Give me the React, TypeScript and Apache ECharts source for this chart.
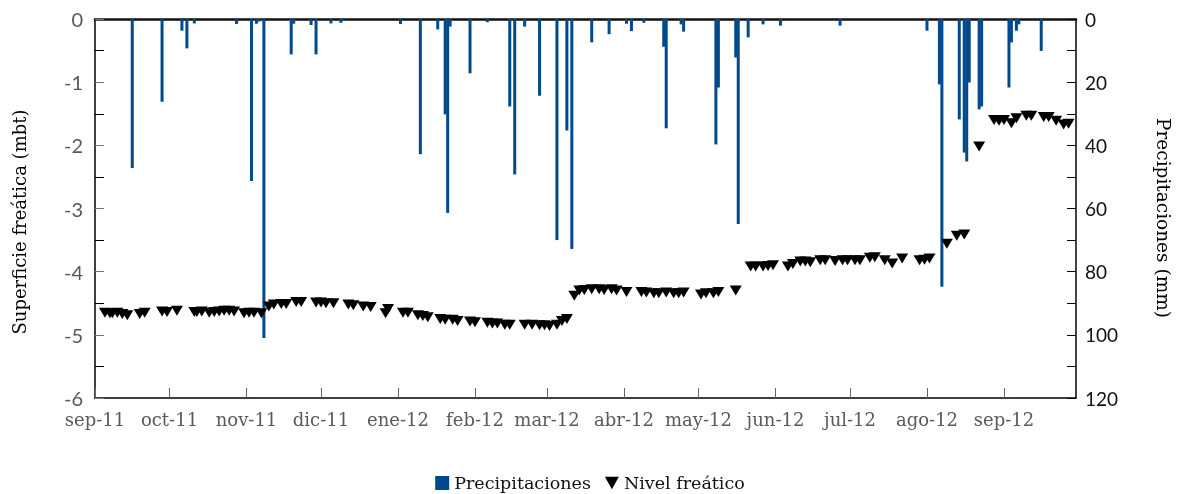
import React, { useEffect, useRef } from "react";
import * as echarts from "echarts";

const mesesInicio = [
  "2011-09-01", "2011-10-01", "2011-11-01", "2011-12-01", "2012-01-01", "2012-02-01", "2012-03-01",
  "2012-04-01", "2012-05-01", "2012-06-01", "2012-07-01", "2012-08-01", "2012-09-01",
];
const mesesEtiquetas = [
  "sep-11", "oct-11", "nov-11", "dic-11", "ene-12", "feb-12", "mar-12",
  "abr-12", "may-12", "jun-12", "jul-12", "ago-12", "sep-12",
];

const precipFechas = [
  "2011-09-16", "2011-09-28",
  "2011-10-06", "2011-10-08", "2011-10-11", "2011-10-28",
  "2011-11-03", "2011-11-05", "2011-11-06", "2011-11-08", "2011-11-19", "2011-11-20", "2011-11-27", "2011-11-29",
  "2011-12-05", "2011-12-09", "2011-12-10",
  "2012-01-02", "2012-01-10", "2012-01-17", "2012-01-20", "2012-01-21", "2012-01-22", "2012-01-30",
  "2012-02-06", "2012-02-15", "2012-02-17", "2012-02-21", "2012-02-27",
  "2012-03-05", "2012-03-09", "2012-03-11", "2012-03-19", "2012-03-26",
  "2012-04-02", "2012-04-04", "2012-04-09", "2012-04-17", "2012-04-18", "2012-04-24", "2012-04-25",
  "2012-05-08", "2012-05-09", "2012-05-16", "2012-05-17", "2012-05-21", "2012-05-27",
  "2012-06-03", "2012-06-27",
  "2012-08-01", "2012-08-06", "2012-08-07", "2012-08-14", "2012-08-16", "2012-08-17", "2012-08-18", "2012-08-22", "2012-08-23",
  "2012-09-03", "2012-09-04", "2012-09-06", "2012-09-07", "2012-09-16",
];
const precipValores = [
  47.2, 26.2,
  3.7, 9.3, 1.4, 1.6,
  51.3, 1.5, 0.8, 101, 11.2, 1.5, 1.9, 11.2,
  1.4, 1.2, 0.5,
  1.6, 42.8, 3.3, 30.2, 61.4, 2.4, 17.2,
  1.0, 27.7, 49.2, 2.4, 24.3,
  70, 35.3, 72.8, 7.4, 4.8,
  1.5, 3.8, 1.2, 8.8, 34.6, 1.7, 4,
  39.7, 21.7, 12.2, 64.9, 5.8, 1.7,
  2.1, 2.1,
  3.7, 20.7, 84.8, 31.8, 42.3, 45.1, 20.1, 28.6, 27.7,
  21.7, 7.4, 3.7, 1.7, 10.1,
];

const nivelFechas = [
  "2011-09-05", "2011-09-07", "2011-09-08", "2011-09-10", "2011-09-12", "2011-09-14", "2011-09-19", "2011-09-21", "2011-09-28", "2011-09-30",
  "2011-10-04", "2011-10-11", "2011-10-12", "2011-10-14", "2011-10-17", "2011-10-19", "2011-10-21", "2011-10-23", "2011-10-25", "2011-10-27", "2011-10-31",
  "2011-11-02", "2011-11-04", "2011-11-07", "2011-11-10", "2011-11-12", "2011-11-15", "2011-11-17", "2011-11-21", "2011-11-23", "2011-11-29",
  "2011-12-01", "2011-12-03", "2011-12-06", "2011-12-12", "2011-12-14", "2011-12-18", "2011-12-21", "2011-12-27", "2011-12-28",
  "2012-01-03", "2012-01-05", "2012-01-09", "2012-01-11", "2012-01-13", "2012-01-18", "2012-01-20", "2012-01-23", "2012-01-25", "2012-01-30",
  "2012-02-01", "2012-02-06", "2012-02-08", "2012-02-10", "2012-02-13", "2012-02-15", "2012-02-21", "2012-02-24", "2012-02-27", "2012-02-29",
  "2012-03-02", "2012-03-05", "2012-03-07", "2012-03-09", "2012-03-12", "2012-03-14", "2012-03-16", "2012-03-19", "2012-03-22", "2012-03-24", "2012-03-27", "2012-03-29",
  "2012-04-02", "2012-04-08", "2012-04-10", "2012-04-13", "2012-04-15", "2012-04-18", "2012-04-21", "2012-04-23", "2012-04-25",
  "2012-05-02", "2012-05-04", "2012-05-07", "2012-05-09", "2012-05-16", "2012-05-22", "2012-05-24", "2012-05-27", "2012-05-29", "2012-05-31",
  "2012-06-06", "2012-06-08", "2012-06-11", "2012-06-13", "2012-06-15", "2012-06-19", "2012-06-21", "2012-06-25", "2012-06-28", "2012-06-30",
  "2012-07-03", "2012-07-05", "2012-07-09", "2012-07-11", "2012-07-15", "2012-07-18", "2012-07-22", "2012-07-29", "2012-07-31",
  "2012-08-02", "2012-08-09", "2012-08-13", "2012-08-16", "2012-08-22", "2012-08-28", "2012-08-30",
  "2012-09-01", "2012-09-04", "2012-09-06", "2012-09-10", "2012-09-12", "2012-09-17", "2012-09-19", "2012-09-22", "2012-09-25", "2012-09-27",
];
const nivelValores = [
  -4.65, -4.66, -4.66, -4.65, -4.67, -4.69, -4.67, -4.65, -4.63, -4.64,
  -4.62, -4.64, -4.64, -4.63, -4.65, -4.64, -4.63, -4.62, -4.62, -4.63, -4.66,
  -4.65, -4.65, -4.66, -4.55, -4.52, -4.51, -4.51, -4.48, -4.48, -4.49,
  -4.49, -4.5, -4.5, -4.52, -4.53, -4.55, -4.56, -4.66, -4.59,
  -4.65, -4.65, -4.69, -4.7, -4.72, -4.75, -4.76, -4.76, -4.78, -4.79,
  -4.8, -4.81, -4.82, -4.82, -4.84, -4.84, -4.84, -4.84, -4.85, -4.85,
  -4.86, -4.84, -4.78, -4.75, -4.38, -4.3, -4.29, -4.28, -4.28, -4.29, -4.28, -4.3,
  -4.32, -4.32, -4.33, -4.34, -4.34, -4.33, -4.34, -4.34, -4.33,
  -4.36, -4.34, -4.34, -4.32, -4.3, -3.92, -3.92, -3.92, -3.91, -3.9,
  -3.92, -3.88, -3.84, -3.84, -3.85, -3.82, -3.82, -3.83, -3.82, -3.82,
  -3.82, -3.82, -3.78, -3.77, -3.82, -3.87, -3.79, -3.82, -3.81,
  -3.79, -3.56, -3.43, -3.41, -2.02, -1.6, -1.61,
  -1.6, -1.65, -1.57, -1.53, -1.53, -1.55, -1.55, -1.61, -1.67, -1.66,
];

const X_MIN = "2011-09-01";
const X_MAX = "2012-09-30";
const TITULO_IZQ = "Superficie freática (mbt)";
const TITULO_DER = "Precipitaciones (mm)";

function ts(s: string): number {
  const [y, m, d] = s.split("-").map(Number);
  return Date.UTC(y, m - 1, d);
}

const TRI = "path://M0,0L10,0L5,9Z";
const SERIF = "DejaVu Serif";
const SANS = "Lato";

export default function App() {
  const ref = useRef<HTMLDivElement>(null);
  useEffect(() => {
    document.body.style.margin = "0";
    if (!ref.current) return;
    const chart = echarts.init(ref.current, undefined, { renderer: "svg" });
    const monthTs = mesesInicio.map(ts);
    const labelFor = (v: number) => {
      const i = monthTs.findIndex((t) => Math.abs(t - v) < 43200000);
      return i >= 0 ? mesesEtiquetas[i] : "";
    };
    chart.setOption({
      animation: false,
      grid: { left: 95, right: 104, top: 19, bottom: 96, containLabel: false },
      graphic: [
        {
          type: "text",
          x: 19,
          y: 222,
          rotation: Math.PI / 2,
          style: {
            text: TITULO_IZQ,
            align: "center",
            verticalAlign: "middle",
            fontFamily: SERIF,
            fontSize: 18,
            fill: "#000",
          },
        },
        {
          type: "text",
          x: 1163,
          y: 218,
          rotation: -Math.PI / 2,
          style: {
            text: TITULO_DER,
            align: "center",
            verticalAlign: "middle",
            fontFamily: SERIF,
            fontSize: 18.5,
            fill: "#000",
          },
        },
      ],
      legend: {
        top: 469,
        left: "center",
        itemWidth: 14,
        itemHeight: 14,
        itemGap: 14,
        textStyle: { fontFamily: SERIF, fontSize: 17.5, color: "#111" },
        data: [
          { name: "Precipitaciones", icon: "rect" },
          { name: "Nivel freático", icon: TRI },
        ],
      },
      xAxis: [
        {
          type: "value",
          min: ts(X_MIN),
          max: ts(X_MAX),
          position: "bottom",
          axisLine: { show: true, onZero: false, lineStyle: { color: "#000", width: 1.5 } },
          axisTick: {
            show: true,
            inside: true,
            length: 10,
            customValues: monthTs,
            lineStyle: { color: "#666" },
          },
          axisLabel: {
            customValues: monthTs,
            formatter: (v: number) => labelFor(v),
            fontFamily: SERIF,
            fontSize: 18,
            color: "#595959",
            margin: 12,
            hideOverlap: false,
          },
          splitLine: { show: false },
        },
        {
          type: "value",
          min: ts(X_MIN),
          max: ts(X_MAX),
          position: "top",
          axisLine: { show: true, onZero: false, lineStyle: { color: "#111", width: 2.5 } },
          axisTick: { show: false },
          axisLabel: { show: false },
          splitLine: { show: false },
        },
      ],
      yAxis: [
        {
          type: "value",
          min: -6,
          max: 0,
          interval: 1,
          position: "left",
          axisLine: { show: true, onZero: false, lineStyle: { color: "#000", width: 1.5 } },
          axisTick: { show: true, inside: true, length: 9, lineStyle: { color: "#777" } },
          minorTick: { show: true, splitNumber: 2, length: 9, lineStyle: { color: "#000" } },
          axisLabel: { fontFamily: SANS, fontSize: 20, color: "#595959", margin: 12 },
          splitLine: { show: false },
        },
        {
          type: "value",
          min: 0,
          max: 120,
          interval: 20,
          inverse: true,
          position: "right",
          axisLine: { show: true, onZero: false, lineStyle: { color: "#000", width: 1.5 } },
          axisTick: { show: true, inside: true, length: 9, lineStyle: { color: "#000" } },
          minorTick: { show: true, splitNumber: 2, length: 9, lineStyle: { color: "#000" } },
          axisLabel: { fontFamily: SANS, fontSize: 19, color: "#111", margin: 9 },
          splitLine: { show: false },
        },
      ],
      series: [
        {
          name: "Precipitaciones",
          type: "bar",
          xAxisIndex: 0,
          yAxisIndex: 1,
          barWidth: 3,
          itemStyle: { color: "#004a8c", opacity: 1 },
          data: precipFechas.map((d, i) => [ts(d), precipValores[i]]),
          z: 2,
        },
        {
          name: "Nivel freático",
          type: "scatter",
          xAxisIndex: 0,
          yAxisIndex: 0,
          symbol: TRI,
          symbolSize: [12, 10],
          itemStyle: { color: "#000", opacity: 1 },
          data: nivelFechas.map((d, i) => [ts(d), nivelValores[i]]),
          z: 3,
        },
      ],
    });
    return () => chart.dispose();
  }, []);
  return <div ref={ref} style={{ position: "fixed", left: 0, top: 0, width: 1180, height: 494 }} />;
}
